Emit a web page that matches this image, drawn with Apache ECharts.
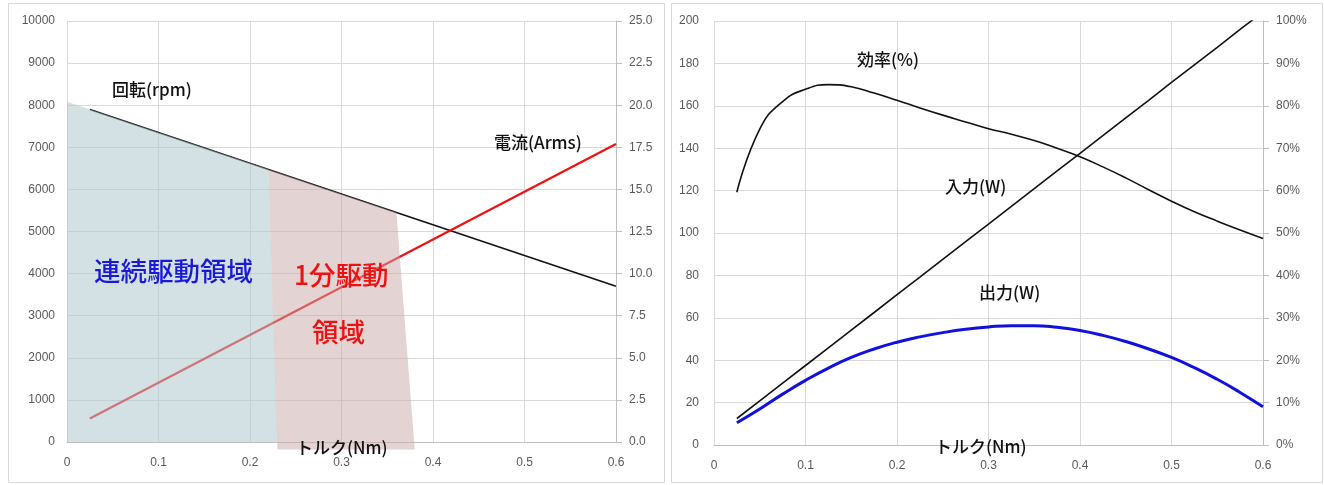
<!DOCTYPE html>
<html><head><meta charset="utf-8">
<script src="https://cdn.jsdelivr.net/npm/echarts@6/dist/echarts.min.js"></script>
<style>html,body{margin:0;padding:0;background:#fff}#c{width:1324px;height:485px}</style>
</head><body><div id="c"></div>
<script>
// ---- Left chart data (torque Nm) ----
const xTicks = [0, 0.1, 0.2, 0.3, 0.4, 0.5, 0.6];
const rpmData = [[0.025, 7900], [0.6, 3700]];
const currentData = [[0.025, 1.4], [0.6, 17.7]];
const contRegion = [[0, 8080], [0.22, 6480], [0.23, 0], [0, 0]];
const oneMinRegion = [[0.22, 6480], [0.36, 5450], [0.38, -180], [0.23, -180]];
// ---- Right chart data ----
const torque = [0.025, 0.05, 0.075, 0.1, 0.125, 0.15, 0.175, 0.2, 0.225, 0.25, 0.275, 0.3,
  0.325, 0.35, 0.375, 0.4, 0.425, 0.45, 0.475, 0.5, 0.525, 0.55, 0.575, 0.6];
const inputW = [12.5, 20.8, 29.2, 37.5, 45.8, 54.2, 62.5, 70.9, 79.2, 87.6, 95.9, 104.2,
  112.6, 120.9, 129.3, 137.6, 145.9, 154.3, 162.6, 171, 179.3, 187.6, 196, 204.3];
const outputW = [10.5, 17, 24, 30.5, 36.3, 41.3, 45.3, 48.5, 51, 53, 54.6, 55.7,
  56.3, 56.3, 55.5, 54, 51.7, 48.8, 45.3, 41.3, 36.5, 31, 24.8, 18];
const efficiencyPct = [59.6, 74.5, 81, 83.9, 85, 84.5, 83, 81.3, 79.5, 77.8, 76.2, 74.6,
  73.3, 71.8, 70, 68, 65.6, 63, 60.2, 57.5, 55, 52.8, 50.7, 48.7];

const labelColor = '#595959';
const gridColor = '#d9d9d9';
const axisColor = '#bfbfbf';
const font = 'Liberation Sans, Arial, sans-serif';
const jp = '"Noto Sans CJK JP", sans-serif';
const pairs = arr => torque.map((t, i) => [t, arr[i]]);

function xAxis(gi) {
  return { type: 'value', gridIndex: gi, min: 0, max: 0.6, interval: 0.1,
    axisLine: { show: true, lineStyle: { color: axisColor } }, axisTick: { show: false },
    splitLine: { show: true, lineStyle: { color: gridColor } },
    axisLabel: { color: labelColor, fontSize: 12, fontFamily: font, margin: 15,
      formatter: v => (v === 0 ? '0' : v.toFixed(1)) } };
}
function leftY(gi, max, interval, margin) {
  return { type: 'value', gridIndex: gi, position: 'left', min: 0, max: max, interval: interval,
    axisLine: { show: false }, axisTick: { show: false },
    splitLine: { show: true, lineStyle: { color: gridColor } },
    axisLabel: { color: labelColor, fontSize: 12, fontFamily: font, margin: margin, formatter: v => String(v) } };
}
function rightY(gi, max, interval, fmt) {
  return { type: 'value', gridIndex: gi, position: 'right', min: 0, max: max, interval: interval,
    axisLine: { show: true, lineStyle: { color: axisColor } },
    axisTick: { show: true, inside: false, length: 6, lineStyle: { color: axisColor } },
    splitLine: { show: false },
    axisLabel: { color: labelColor, fontSize: 12, fontFamily: font, margin: 13, formatter: fmt } };
}
function regionSeries(points, fill) {
  return { type: 'custom', xAxisIndex: 0, yAxisIndex: 0, data: [0], z: 5, silent: true, clip: false,
    renderItem: (params, api) => ({ type: 'polygon',
      shape: { points: points.map(p => api.coord(p)) },
      style: { fill: fill } }) };
}
function txt(x, y, s, size, color) {
  return { type: 'text', x: x, y: y, z: 100,
    style: { text: s, fontSize: size, fontFamily: jp, fontWeight: 500, fill: color, textVerticalAlign: 'middle', textAlign: 'left' } };
}

const chart = echarts.init(document.getElementById('c'), null, { renderer: 'canvas' });
chart.setOption({
  backgroundColor: '#fff',
  animation: false,
  grid: [
    { left: 67, right: 708, top: 21, bottom: 43 },
    { left: 714, right: 61, top: 21, bottom: 40 }
  ],
  xAxis: [xAxis(0), xAxis(1)],
  yAxis: [
    leftY(0, 10000, 1000, 12),
    rightY(0, 25, 2.5, v => v.toFixed(1)),
    leftY(1, 200, 20, 15),
    rightY(1, 100, 10, v => v + '%')
  ],
  graphic: [
    { type: 'rect', z: -10, shape: { x: 8.5, y: 3.5, width: 656, height: 479 }, style: { fill: '#fff', stroke: '#d9d9d9', lineWidth: 1 } },
    { type: 'rect', z: -10, shape: { x: 671.5, y: 3.5, width: 651, height: 479 }, style: { fill: '#fff', stroke: '#d9d9d9', lineWidth: 1 } },
    txt(112, 90, '回転(rpm)', 17, '#111'),
    txt(494, 143, '電流(Arms)', 17, '#111'),
    txt(94, 271, '連続駆動領域', 26.5, '#1a1ad6'),
    txt(294, 275, '1分駆動', 26.5, '#ee1111'),
    txt(312, 332, '領域', 26.5, '#ee1111'),
    txt(296, 448, 'トルク(Nm)', 17, '#111'),
    txt(857, 60, '効率(%)', 17, '#111'),
    txt(945, 187, '入力(W)', 17, '#111'),
    txt(979, 293, '出力(W)', 17, '#111'),
    txt(935, 447, 'トルク(Nm)', 17, '#111')
  ],
  series: [
    { type: 'line', name: '回転', xAxisIndex: 0, yAxisIndex: 0, data: rpmData, symbol: 'none',
      lineStyle: { color: '#111', width: 1.6 } },
    { type: 'line', name: '電流', xAxisIndex: 0, yAxisIndex: 1, data: currentData, symbol: 'none',
      lineStyle: { color: '#ee1111', width: 2.2 } },
    regionSeries(contRegion, 'rgba(175,200,205,0.55)'),
    regionSeries(oneMinRegion, 'rgba(200,168,168,0.5)'),
    { type: 'line', name: '効率', xAxisIndex: 1, yAxisIndex: 3, data: pairs(efficiencyPct), symbol: 'none',
      smooth: 0.5, lineStyle: { color: '#111', width: 1.6 } },
    { type: 'line', name: '入力', xAxisIndex: 1, yAxisIndex: 2, data: pairs(inputW), symbol: 'none',
      lineStyle: { color: '#111', width: 1.6 } },
    { type: 'line', name: '出力', xAxisIndex: 1, yAxisIndex: 2, data: pairs(outputW), symbol: 'none',
      smooth: 0.5, lineStyle: { color: '#1111dd', width: 3 } }
  ]
});
</script></body></html>
